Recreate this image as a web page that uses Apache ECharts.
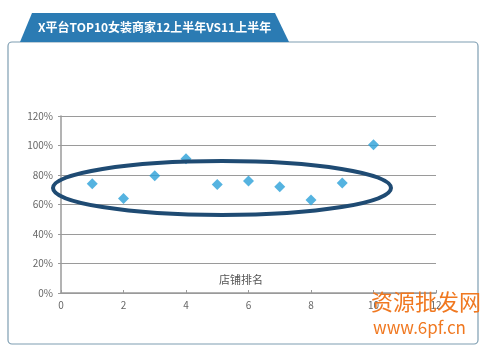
<!DOCTYPE html>
<html>
<head>
<meta charset="utf-8">
<script src="https://cdn.jsdelivr.net/npm/echarts@6/dist/echarts.min.js"></script>
<style>
  html, body { margin: 0; padding: 0; background: #fff; }
  #chart { width: 488px; height: 351px; }
</style>
</head>
<body>
<div id="chart"></div>
<script>
// 店铺排名 1-10
const ranks = [1, 2, 3, 4, 5, 6, 7, 8, 9, 10];
// 12上半年 / 11上半年 比值
const ratios = [0.74, 0.64, 0.795, 0.91, 0.735, 0.76, 0.72, 0.63, 0.745, 1.005];
const yTicks = [0, 0.2, 0.4, 0.6, 0.8, 1.0, 1.2];
const chartTitle = 'X平台TOP10女装商家12上半年VS11上半年';
const xName = '店铺排名';

const chart = echarts.init(document.getElementById('chart'));
const fontFamily = '"Noto Sans CJK SC", "DejaVu Sans", sans-serif';

const option = {
  backgroundColor: '#fff',
  animation: false,
  textStyle: { fontFamily },
  grid: { left: 61, right: 52, top: 116, bottom: 58 },
  xAxis: {
    type: 'value',
    min: 0,
    max: 12,
    interval: 2,
    axisLine: { show: true, lineStyle: { color: '#9a9a9a', width: 1.5 } },
    axisTick: { show: true, inside: true, length: 3, lineStyle: { color: '#9a9a9a' } },
    axisLabel: { color: '#666', fontSize: 10, margin: 7, hideOverlap: false },
    splitLine: { show: false }
  },
  yAxis: {
    type: 'value',
    min: yTicks[0],
    max: yTicks[yTicks.length - 1],
    interval: 0.2,
    axisLine: { show: true, lineStyle: { color: '#9a9a9a', width: 1.5 } },
    axisTick: { show: true, length: 3, lineStyle: { color: '#9a9a9a' } },
    axisLabel: {
      color: '#666',
      fontSize: 10,
      margin: 8,
      formatter: v => Math.round(v * 100) + '%'
    },
    splitLine: { show: true, lineStyle: { color: '#9a9a9a', width: 1.2 } }
  },
  series: [
    {
      type: 'scatter',
      symbol: 'diamond',
      symbolSize: 11,
      itemStyle: { color: '#2aa0d8' },
      data: ranks.map((r, i) => [r, ratios[i]])
    }
  ],
  graphic: [
    // 外框
    {
      type: 'rect',
      shape: { x: 8, y: 42, width: 470, height: 302, r: 4 },
      style: { fill: 'none', stroke: '#7e9eb2', lineWidth: 1.2 },
      z: 1
    },
    // 标题标签
    {
      type: 'polygon',
      shape: { points: [[20, 42], [32, 13], [275, 13], [289, 42]] },
      style: { fill: '#2b7bb3' },
      z: 2
    },
    {
      type: 'text',
      left: 38,
      top: 21,
      style: {
        text: chartTitle,
        fill: '#fff',
        font: 'bold 12px ' + fontFamily
      },
      z: 3
    },
    {
      type: 'text',
      left: 219,
      top: 274,
      style: { text: xName, fill: '#555', font: '11px ' + fontFamily },
      z: 3
    },
    // 椭圆标注
    {
      type: 'ellipse',
      shape: { cx: 222, cy: 188, rx: 169, ry: 27 },
      style: { fill: 'none', stroke: '#1f4b73', lineWidth: 4 },
      z: 10
    },
    // 水印
    {
      type: 'text',
      left: 371,
      top: 291,
      style: { text: '资源批发网', fill: '#f07820', font: '22px ' + fontFamily },
      z: 11
    },
    {
      type: 'text',
      left: 373,
      top: 319,
      style: { text: 'www.6pf.cn', fill: '#f07820', font: '17px ' + fontFamily },
      z: 11
    }
  ]
};

chart.setOption(option);
</script>
</body>
</html>
